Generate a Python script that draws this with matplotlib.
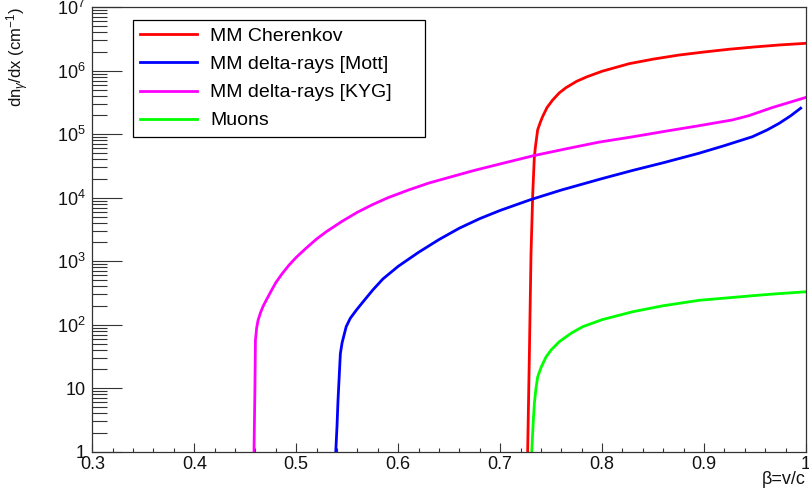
import math
import matplotlib
matplotlib.use("Agg")
import matplotlib.pyplot as plt
from matplotlib.ticker import MultipleLocator, LogLocator, FuncFormatter, NullFormatter

plt.rcParams['font.family'] = ['Liberation Sans', 'DejaVu Sans']
plt.rcParams['mathtext.fontset'] = 'custom'
plt.rcParams['mathtext.rm'] = 'Liberation Sans'
plt.rcParams['mathtext.it'] = 'Liberation Sans:italic'
plt.rcParams['mathtext.bf'] = 'Liberation Sans:bold'

# values
beta_cher = [0.727, 0.7287, 0.7303, 0.732, 0.7335, 0.7346, 0.7368, 0.7395, 0.7417, 0.746,
             0.7515, 0.758, 0.7646, 0.775, 0.785, 0.80, 0.8266, 0.85, 0.875, 0.90,
             0.925, 0.95, 0.975, 1.0]
n_cher = [1, 35, 1330, 11700, 42000, 63000, 117000, 155000, 190000, 263000,
          345000, 447000, 540000, 680000, 800000, 980000, 1.29e6, 1.52e6, 1.76e6, 1.97e6,
          2.18e6, 2.37e6, 2.55e6, 2.7e6]

beta_mott = [0.5388, 0.540, 0.541, 0.5433, 0.545, 0.549, 0.553, 0.559, 0.566, 0.5753,
             0.585, 0.60, 0.62, 0.64, 0.66, 0.68, 0.70, 0.73, 0.76, 0.80,
             0.83, 0.86, 0.895, 0.92, 0.9474, 0.962, 0.9736, 0.985, 0.9948]
n_mott = [1, 2.5, 6.5, 35, 52, 93, 126, 170, 234, 355,
          525, 830, 1380, 2190, 3310, 4680, 6300, 9330, 13200, 20000,
          26900, 35500, 50100, 66100, 91200, 117000, 148000, 195000, 257000]

beta_kyg = [0.4586, 0.4595, 0.460, 0.4612, 0.4626, 0.465, 0.4675, 0.471, 0.475, 0.480,
            0.486, 0.493, 0.500, 0.510, 0.520, 0.530, 0.545, 0.560, 0.575, 0.590,
            0.610, 0.630, 0.650, 0.675, 0.700, 0.733, 0.765, 0.797, 0.830, 0.863,
            0.895, 0.928, 0.944, 0.967, 1.0]
n_kyg = [1, 10, 57, 89, 118, 155, 195, 250, 330, 460,
         630, 870, 1150, 1620, 2240, 2950, 4250, 5900, 7800, 10000,
         13200, 17000, 20900, 27000, 34000, 46000, 59000, 75000, 91000, 112000,
         136000, 168000, 196000, 263000, 380000]

beta_mu = [0.731, 0.7325, 0.7336, 0.735, 0.7368, 0.74, 0.745, 0.75, 0.758, 0.77,
           0.781, 0.80, 0.83, 0.86, 0.895, 0.92, 0.944, 0.97, 1.0]
n_mu = [1, 3, 5.8, 9.5, 15, 21, 31, 40, 54, 74,
        93, 120, 160, 199, 242, 262, 283, 306, 330]

labels = ["MM Cherenkov", "MM delta-rays [Mott]", "MM delta-rays [KYG]", "Muons"]
colors = ["#ff0000", "#0000ff", "#ff00ff", "#00ff00"]


def ytick_fmt(v, pos):
    if v < 1.5:
        return "1"
    if v < 15:
        return "10"
    return r"$10^{%d}$" % int(round(math.log10(v)))


fig = plt.figure(figsize=(8.09, 4.97), dpi=100)
ax = fig.add_axes([92.3 / 809, 1 - 451.7 / 497, (806 - 92.3) / 809, (451.7 - 7.2) / 497])

lw = 2.0
series = [(beta_cher, n_cher), (beta_mott, n_mott), (beta_kyg, n_kyg), (beta_mu, n_mu)]
for (bx, ny), c, lab in zip(series, colors, labels):
    ax.plot(bx, ny, color=c, lw=lw, label=lab, solid_joinstyle="round")

ax.set_yscale("log")
ax.set_xlim(0.3, 1.0)
ax.set_ylim(1, 1e7)

ax.xaxis.set_major_locator(MultipleLocator(0.1))
ax.xaxis.set_minor_locator(MultipleLocator(0.02))
ax.xaxis.set_major_formatter(FuncFormatter(lambda v, p: "%g" % round(v, 2)))
ax.yaxis.set_major_locator(LogLocator(base=10, numticks=20))
ax.yaxis.set_minor_locator(LogLocator(base=10, subs=range(2, 10), numticks=20))
ax.yaxis.set_major_formatter(FuncFormatter(ytick_fmt))
ax.yaxis.set_minor_formatter(NullFormatter())

axcol = "#333333"
for s in ax.spines.values():
    s.set_color(axcol)
    s.set_linewidth(0.9)

ax.tick_params(axis="both", which="both", direction="in", color=axcol, width=0.8,
               labelsize=13, labelcolor="#111111")
ax.tick_params(axis="x", which="major", length=6.5, pad=3)
ax.tick_params(axis="x", which="minor", length=3.2)
ax.tick_params(axis="y", which="major", length=21.6, pad=5)
ax.tick_params(axis="y", which="minor", length=10.8)

fig.text(18 / 809, 1 - 7 / 497, r"dn$_{\gamma}$/dx (cm$^{-1}$)", rotation=90,
         ha="center", va="top", fontsize=12, color="#111111")
fig.text(806 / 809, 1 - 480 / 497, "\u03b2=v/c", ha="right", va="center",
         fontsize=13, color="#111111")

leg = ax.legend(loc="upper left", bbox_to_anchor=(0.057, 0.0, 0.409, 0.971), mode="expand",
                borderaxespad=0, fontsize=14, frameon=True, fancybox=False, shadow=False,
                framealpha=1, edgecolor="black", handlelength=2.9, handletextpad=0.7,
                labelspacing=0.54, borderpad=0.38)
leg.get_frame().set_linewidth(0.9)
for line in leg.get_lines():
    line.set_linewidth(2.0)

fig.savefig("out.png", dpi=100)
